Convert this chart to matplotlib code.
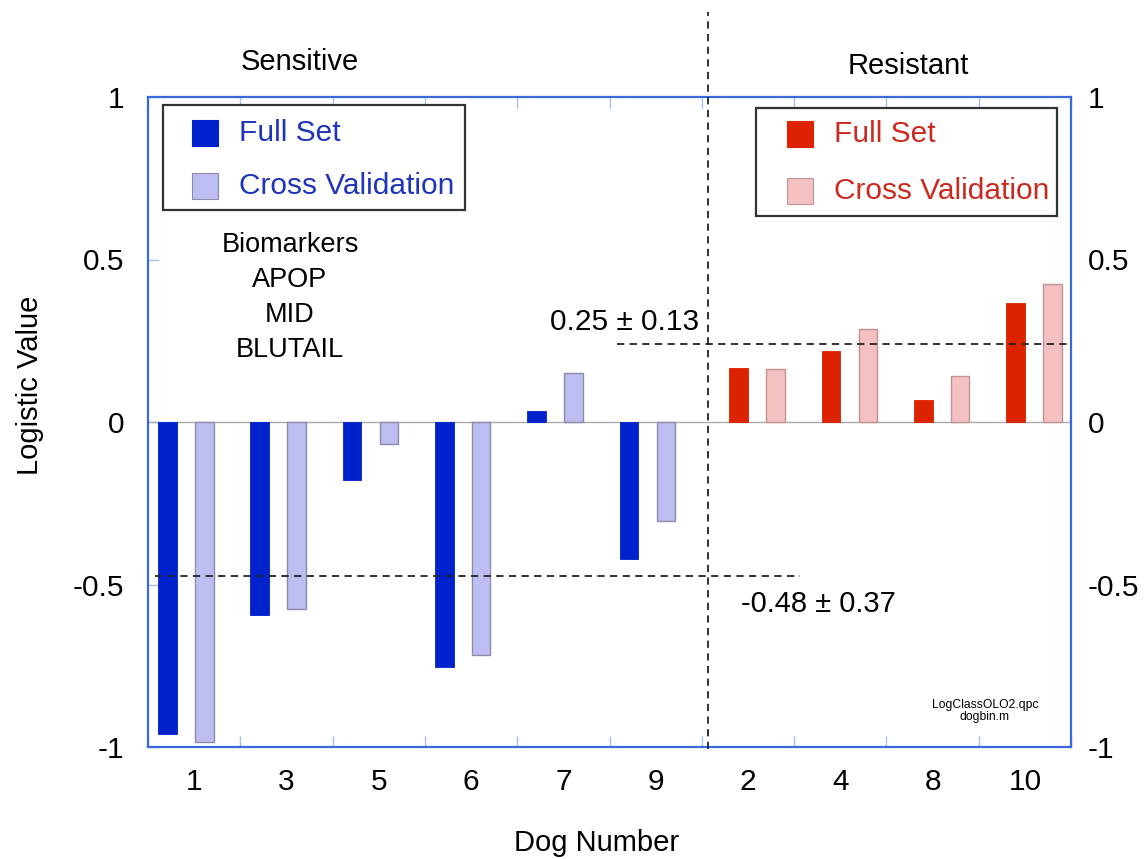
import matplotlib
matplotlib.use("Agg")
import matplotlib.pyplot as plt
from matplotlib.patches import Rectangle
import numpy as np

plt.rcParams['font.family'] = ['Liberation Sans', 'DejaVu Sans']

# ---- data ----
dogs = ["1", "3", "5", "6", "7", "9", "2", "4", "8", "10"]
group = ["S", "S", "S", "S", "S", "S", "R", "R", "R", "R"]
full_set = [-0.96, -0.594, -0.178, -0.754, 0.034, -0.42, 0.166, 0.22, 0.068, 0.366]
cross_val = [-0.985, -0.575, -0.068, -0.717, 0.15, -0.305, 0.163, 0.286, 0.142, 0.425]
sens_mean_line = -0.475
res_mean_line = 0.24
sens_label = "-0.48 ± 0.37"
res_label = "0.25 ± 0.13"
biomarkers = ["Biomarkers", "APOP", "MID", "BLUTAIL"]
yticks = [-1, -0.5, 0, 0.5, 1]
ytick_labels = ["-1", "-0.5", "0", "0.5", "1"]

# ---- colours ----
c_full = {"S": "#0022cc", "R": "#dd2200"}
c_cv = {"S": "#bcbdf0", "R": "#f4c0c0"}
e_cv = {"S": "#8c8ca8", "R": "#c09494"}
c_txt = {"S": "#1f33bb", "R": "#cc2a1f"}
spine_c = "#3a68dd"
tick_c = "#a8c0e8"

fig = plt.figure(figsize=(11.47, 8.59), dpi=100)
ax = fig.add_axes([148/1147, 1-747/859, 923/1147, 650/859])

x = np.arange(len(dogs))
off_full = {"S": -0.29, "R": -0.10}
off_cv = {"S": 0.11, "R": 0.30}
w = 0.2
for i, g in enumerate(group):
    ax.bar(x[i] + off_full[g], full_set[i], width=w, color=c_full[g],
           edgecolor=c_full[g], linewidth=0.6, align="center", zorder=3)
    ax.bar(x[i] + off_cv[g], cross_val[i], width=w, color=c_cv[g],
           edgecolor=e_cv[g], linewidth=1.0, align="center", zorder=3)

ax.set_xlim(-0.5, len(dogs) - 0.5)
ax.set_ylim(-1, 1)
ax.axhline(0, color="#aaaaaa", lw=1.0, zorder=2)

# dashed reference lines
dash = (0, (4, 3))
ax.hlines(sens_mean_line, -0.42, 6.56, colors="#222222", linestyles=dash, lw=1.3, zorder=4)
ax.hlines(res_mean_line, 4.58, 9.5, colors="#222222", linestyles=dash, lw=1.3, zorder=4)
ax.axvline(5.57, ymin=-0.003, ymax=(747-12)/650, color="#222222", ls=dash, lw=1.3,
           clip_on=False, zorder=4)

# spines
for s in ax.spines.values():
    s.set_color(spine_c)
    s.set_linewidth(1.6)

# x ticks: marks at boundaries, labels at centres
ax.set_xticks(np.arange(len(dogs) + 1) - 0.5)
ax.set_xticklabels([])
ax.tick_params(axis="x", which="major", direction="in", length=8, color=tick_c,
               top=True, bottom=True, width=1)
ax.set_xticks(x, minor=True)
ax.set_xticklabels(dogs, minor=True, fontsize=21.5)
ax.tick_params(axis="x", which="minor", length=0, pad=15)

ax.set_yticks(yticks)
ax.set_yticklabels(ytick_labels, fontsize=21.5)
ax.tick_params(axis="y", direction="in", length=8, color=tick_c, width=1, pad=17,
               left=True, right=True)

ax2 = ax.twinx()
ax2.set_ylim(-1, 1)
ax2.set_yticks(yticks)
ax2.set_yticklabels(ytick_labels, fontsize=21.5)
ax2.tick_params(axis="y", length=0, pad=12)
for s in ax2.spines.values():
    s.set_visible(False)

fig.text(30/1147, 1-385/859, "Logistic Value", rotation=90, ha="center", va="center",
         fontsize=21)
fig.text(597/1147, 1-843/859, "Dog Number", ha="center", va="center", fontsize=21)

# group titles
ax.text((300-148)/923, (747-62)/650, "Sensitive", transform=ax.transAxes,
        ha="center", va="center", fontsize=21)
ax.text((908-148)/923, (747-66)/650, "Resistant", transform=ax.transAxes,
        ha="center", va="center", fontsize=21)

# biomarker list
for k, line in enumerate(biomarkers):
    ax.text((290-148)/923, (747-(245+35*k))/650, line, transform=ax.transAxes,
            ha="center", va="center", fontsize=19.5)

ax.text((625-148)/923, (747-322)/650, res_label, transform=ax.transAxes,
        ha="center", va="center", fontsize=21.5)
ax.text((818-148)/923, (747-604)/650, sens_label, transform=ax.transAxes,
        ha="center", va="center", fontsize=21)

ax.text((985-148)/923, (747-711)/650, "LogClassOLO2.qpc\ndogbin.m",
        transform=ax.transAxes, ha="center", va="center", fontsize=8.7,
        linespacing=1.1)

# manual legends
def legend_box(x0, y0, x1, y1, g, patch_x, rows_y, text_x):
    ax.add_patch(Rectangle(((x0-148)/923, (747-y1)/650), (x1-x0)/923, (y1-y0)/650,
                           transform=ax.transAxes, facecolor="white",
                           edgecolor="#333333", lw=1.6, zorder=6, clip_on=False))
    for (lab, fc, ec), yy in zip([("Full Set", c_full[g], c_full[g]),
                                   ("Cross Validation", c_cv[g], e_cv[g])], rows_y):
        ax.add_patch(Rectangle(((patch_x-148)/923, (747-(yy+13))/650), 26/923, 26/650,
                               transform=ax.transAxes, facecolor=fc, edgecolor=ec,
                               lw=0.8, zorder=7))
        ax.text((text_x-148)/923, (747-yy)/650, lab, transform=ax.transAxes,
                ha="left", va="center", fontsize=21.5, color=c_txt[g], zorder=8)

legend_box(163, 105, 465, 210, "S", 192, [133, 186], 239)
legend_box(756, 108, 1057, 216, "R", 787, [134, 191], 834)

fig.savefig("out.png", dpi=100)
